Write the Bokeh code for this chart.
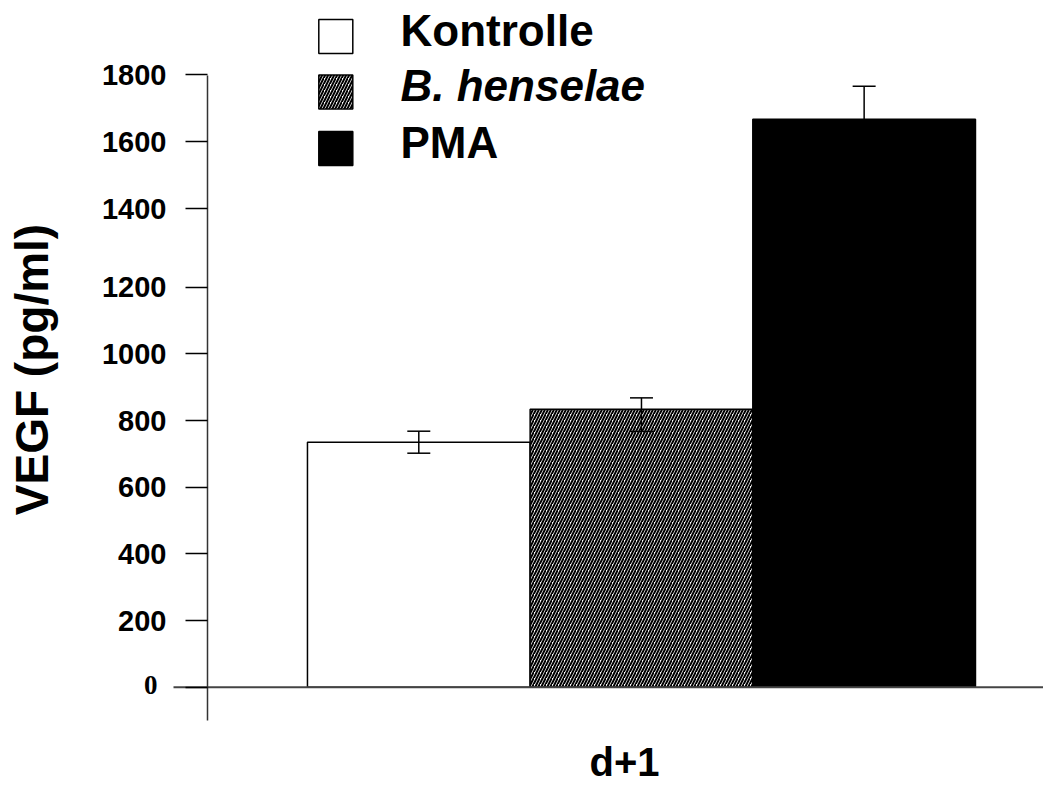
import numpy as np
from bokeh.plotting import figure
from bokeh.models import Range1d, LinearAxis, FixedTicker, ColumnDataSource, Whisker, TeeHead
from bokeh.core.properties import value
from bokeh.embed import file_html
from bokeh.resources import INLINE

# ---------------- data ----------------
categories = ["Kontrolle", "B. henselae", "PMA"]
means = [735, 834, 1704]
err_lower = [702, 767, 1605]
err_upper = [768, 868, 1803]
ytick_values = [0, 200, 400, 600, 800, 1000, 1200, 1435, 1637, 1837]
ytick_labels = ["0", "200", "400", "600", "800", "1000", "1200", "1400", "1600", "1800"]
y_axis_title = "VEGF (pg/ml)"
x_group_label = "d+1"

# ---------------- layout helpers (page pixels -> data) ----------------
W, H = 1043, 787
BAR_W_PX = 222.67      # one category slot in pixels
CAT1_PX = 418.3        # page x of first category centre
ZERO_PX = 686.7        # page y of value 0
UNIT_PX = 1.0 / 3.0    # pixels per data unit
BASE_FIX = 0.38        # empirical baseline correction (fraction of font size)


def xp(px):
    return 1 + (px - CAT1_PX) / BAR_W_PX


def yp(py):
    return (ZERO_PX - py) / UNIT_PX


def yb(py, size):
    return yp(py - BASE_FIX * size)


FONT = value("Liberation Sans")
xs = [i + 1 for i in range(len(categories))]
HATCH = dict(hatch_pattern="/", hatch_color="black", hatch_scale=6, hatch_weight=2)

p = figure(width=W, height=H,
           x_range=Range1d(xp(0), xp(W)), y_range=Range1d(yp(H), yp(0)),
           output_backend="svg", toolbar_location=None,
           x_axis_type=None, y_axis_type=None, min_border=0,
           outline_line_color=None, background_fill_color="white",
           border_fill_color="white")

# bars
p.vbar(x=[xs[0]], top=[means[0]], bottom=0, width=1, fill_color="white",
       line_color="black", line_width=1.5)
p.vbar(x=[xs[1]], top=[means[1]], bottom=0, width=1, fill_color="white",
       line_color="black", line_width=1.5, **HATCH)
p.vbar(x=[xs[2]], top=[means[2]], bottom=0, width=1, fill_color="black",
       line_color="black", line_width=1.5)

# zero baseline (extends left of the y axis like the reference)
p.segment(x0=[xp(173)], y0=[0], x1=[xp(W)], y1=[0], line_color="#444444", line_width=2)

# error bars
src = ColumnDataSource(dict(x=xs, lower=err_lower, upper=err_upper))
wh = Whisker(base="x", lower="lower", upper="upper", source=src,
             line_color="black", line_width=1.5, level="overlay",
             upper_head=TeeHead(size=23, line_color="black", line_width=1.5),
             lower_head=TeeHead(size=23, line_color="black", line_width=1.5))
p.add_layout(wh)

# y axis
overrides = {v: (l if l != "0" else "") for v, l in zip(ytick_values, ytick_labels)}
ax = LinearAxis(fixed_location=xp(207), ticker=FixedTicker(ticks=ytick_values),
                bounds=(yp(720), yp(74.5)), major_label_overrides=overrides)
ax.axis_line_color = "#333333"
ax.axis_line_width = 1.5
ax.major_tick_out = 22
ax.major_tick_in = 0
ax.minor_tick_out = 0
ax.minor_tick_in = 0
ax.major_tick_line_width = 1.5
ax.major_tick_line_color = "black"
ax.major_label_text_font = "Liberation Sans"
ax.major_label_text_font_style = "bold"
ax.major_label_text_font_size = "29px"
ax.major_label_text_color = "black"
ax.major_label_standoff = 19
p.add_layout(ax, "left")

# serif "0" label as in the reference
p.text(x=[xp(157)], y=[yb(695, 27)], text=[ytick_labels[0]], text_align="right",
       text_baseline="alphabetic", text_font=value("Liberation Serif"),
       text_font_style="bold", text_font_size="27px", text_color="black")

# y axis title (rotated; baseline on the right side)
p.text(x=[xp(49 - BASE_FIX * 46)], y=[yp(369)], text=[y_axis_title], angle=np.pi / 2,
       text_align="center", text_baseline="alphabetic", text_font=FONT,
       text_font_style="bold", text_font_size="46px", text_color="black")

# x group label
p.text(x=[xp(624)], y=[yb(777, 40)], text=[x_group_label], text_align="center",
       text_baseline="alphabetic", text_font=FONT, text_font_style="bold",
       text_font_size="40px", text_color="black")

# legend (manual)
leg_sq_x = xp(335.3)
leg_centres = [36, 91.5, 148]
leg_baselines = [46.7, 101.7, 158.3]
p.rect(x=[leg_sq_x], y=[yp(leg_centres[0])], width=34, height=34,
       width_units="screen", height_units="screen", fill_color="white",
       line_color="black", line_width=1.5)
p.rect(x=[leg_sq_x], y=[yp(leg_centres[1])], width=34, height=34,
       width_units="screen", height_units="screen", fill_color="white",
       line_color="black", line_width=1.5, **HATCH)
p.rect(x=[leg_sq_x], y=[yp(leg_centres[2])], width=34, height=34,
       width_units="screen", height_units="screen", fill_color="black",
       line_color="black", line_width=1.5)
styles = ["bold", "bold italic", "bold"]
for name, base, st in zip(categories, leg_baselines, styles):
    p.text(x=[xp(400)], y=[yb(base, 44)], text=[name], text_align="left",
           text_baseline="alphabetic", text_font=FONT, text_font_style=st,
           text_font_size="44px", text_color="black")

open("out.html", "w").write(file_html(p, INLINE))
